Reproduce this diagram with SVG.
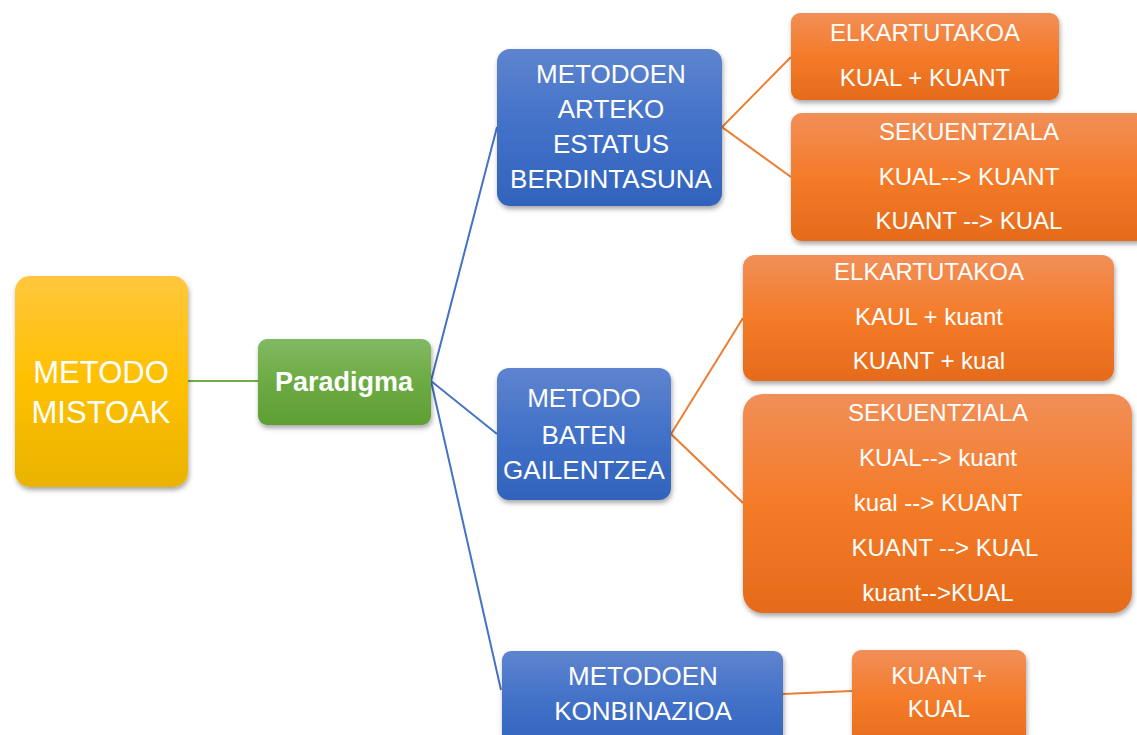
<svg xmlns="http://www.w3.org/2000/svg" width="1137" height="735" viewBox="0 0 1137 735">
  <style>
    .t { font-family: "Liberation Sans", Arial, sans-serif; fill: #ffffff; text-anchor: middle; }
    .big { font-size: 31px; }
    .bold { font-size: 27px; font-weight: bold; }
    .blue { font-size: 26px; }
    .org { font-size: 24px; }
    .edge { fill: none; stroke-width: 2; }
    .eg { stroke: #70AD47; }
    .eb { stroke: #4472C4; }
    .eo { stroke: #ED7D31; }
  </style>
  <defs>
    <linearGradient id="gYellow" x1="0" y1="0" x2="0" y2="1">
      <stop offset="0" stop-color="#FFC73D"/>
      <stop offset="0.5" stop-color="#FFC000"/>
      <stop offset="1" stop-color="#E9B300"/>
    </linearGradient>
    <linearGradient id="gGreen" x1="0" y1="0" x2="0" y2="1">
      <stop offset="0" stop-color="#81B964"/>
      <stop offset="0.5" stop-color="#6CAB42"/>
      <stop offset="1" stop-color="#5F9F35"/>
    </linearGradient>
    <linearGradient id="gBlue" x1="0" y1="0" x2="0" y2="1">
      <stop offset="0" stop-color="#5E84CE"/>
      <stop offset="0.5" stop-color="#4271C8"/>
      <stop offset="1" stop-color="#3163BC"/>
    </linearGradient>
    <linearGradient id="gOrange" x1="0" y1="0" x2="0" y2="1">
      <stop offset="0" stop-color="#F18F58"/>
      <stop offset="0.5" stop-color="#F47B28"/>
      <stop offset="1" stop-color="#E56B1C"/>
    </linearGradient>
    <filter id="shadow" x="-10%" y="-10%" width="125%" height="130%">
      <feDropShadow dx="1" dy="3" stdDeviation="2.5" flood-color="#000" flood-opacity="0.35"/>
    </filter>
  </defs>

  <!-- connectors -->
  <g id="connectors">
    <line class="edge eg" x1="188" y1="381" x2="258" y2="381"/>
    <polyline class="edge eb" points="497,127 431,381 497,434"/>
    <line class="edge eb" x1="431" y1="381" x2="501" y2="690"/>
    <polyline class="edge eo" points="791,57 722,127 791,177"/>
    <polyline class="edge eo" points="743,318 671,434 743,503"/>
    <line class="edge eo" x1="783" y1="694" x2="852" y2="691"/>
  </g>

  <g id="node-metodo-mistoak">
    <rect x="15" y="276" width="173" height="211" rx="15" fill="url(#gYellow)" filter="url(#shadow)"/>
    <text class="t big" x="101" y="383">METODO</text>
    <text class="t big" x="101" y="423">MISTOAK</text>
  </g>

  <g id="node-paradigma">
    <rect x="258" y="339" width="173" height="86" rx="9" fill="url(#gGreen)" filter="url(#shadow)"/>
    <text class="t bold" x="344" y="391">Paradigma</text>
  </g>

  <g id="node-estatus">
    <rect x="497" y="49" width="225" height="157" rx="13" fill="url(#gBlue)" filter="url(#shadow)"/>
    <text class="t blue" x="611" y="83">METODOEN</text>
    <text class="t blue" x="611" y="118">ARTEKO</text>
    <text class="t blue" x="611" y="153">ESTATUS</text>
    <text class="t blue" x="611" y="188">BERDINTASUNA</text>
  </g>

  <g id="node-gailentzea">
    <rect x="497" y="368" width="174" height="132" rx="12" fill="url(#gBlue)" filter="url(#shadow)"/>
    <text class="t blue" x="584" y="407">METODO</text>
    <text class="t blue" x="584" y="444">BATEN</text>
    <text class="t blue" x="584" y="479">GAILENTZEA</text>
  </g>

  <g id="node-konbinazioa">
    <rect x="502" y="651" width="281" height="100" rx="9" fill="url(#gBlue)" filter="url(#shadow)"/>
    <text class="t blue" x="643" y="685">METODOEN</text>
    <text class="t blue" x="643" y="720">KONBINAZIOA</text>
  </g>

  <g id="node-elkartutakoa-1">
    <rect x="791" y="13" width="268" height="87" rx="9" fill="url(#gOrange)" filter="url(#shadow)"/>
    <text class="t org" x="925" y="41">ELKARTUTAKOA</text>
    <text class="t org" x="925" y="86">KUAL + KUANT</text>
  </g>

  <g id="node-sekuentziala-1">
    <rect x="791" y="113" width="356" height="128" rx="11" fill="url(#gOrange)" filter="url(#shadow)"/>
    <text class="t org" x="969" y="140">SEKUENTZIALA</text>
    <text class="t org" x="969" y="185">KUAL--&gt; KUANT</text>
    <text class="t org" x="969" y="229">KUANT --&gt; KUAL</text>
  </g>

  <g id="node-elkartutakoa-2">
    <rect x="743" y="255" width="371" height="126" rx="12" fill="url(#gOrange)" filter="url(#shadow)"/>
    <text class="t org" x="929" y="280">ELKARTUTAKOA</text>
    <text class="t org" x="929" y="325">KAUL + kuant</text>
    <text class="t org" x="929" y="369">KUANT + kual</text>
  </g>

  <g id="node-sekuentziala-2">
    <rect x="743" y="394" width="389" height="219" rx="20" fill="url(#gOrange)" filter="url(#shadow)"/>
    <text class="t org" x="938" y="421">SEKUENTZIALA</text>
    <text class="t org" x="938" y="466">KUAL--&gt; kuant</text>
    <text class="t org" x="938" y="511">kual --&gt; KUANT</text>
    <text class="t org" x="945" y="556">KUANT --&gt; KUAL</text>
    <text class="t org" x="938" y="601">kuant--&gt;KUAL</text>
  </g>

  <g id="node-kuant-kual">
    <rect x="852" y="650" width="174" height="100" rx="9" fill="url(#gOrange)" filter="url(#shadow)"/>
    <text class="t org" x="939" y="684">KUANT+</text>
    <text class="t org" x="939" y="717">KUAL</text>
  </g>
</svg>
